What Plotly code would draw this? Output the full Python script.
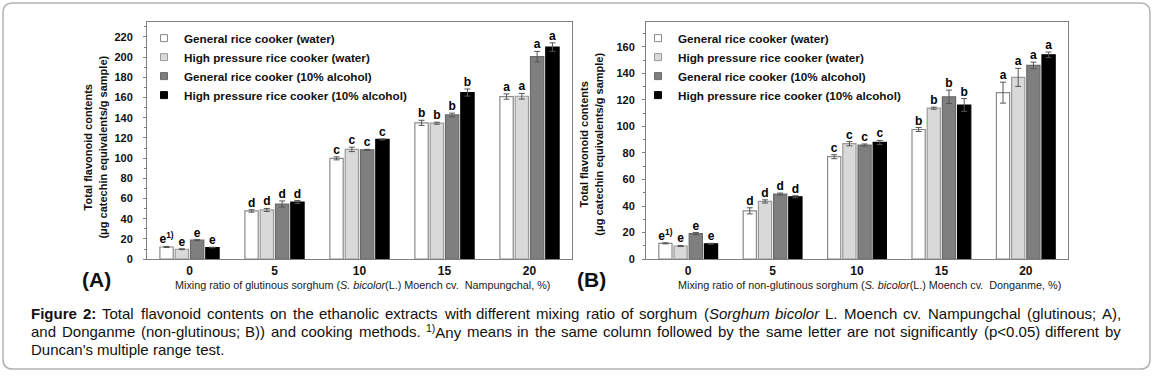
import plotly.graph_objects as go

# ---------------- data ----------------
mix_ratio = ["0", "5", "10", "15", "20"]
series_names = [
    "General rice cooker (water)",
    "High pressure rice cooker (water)",
    "General rice cooker (10% alcohol)",
    "High pressure rice cooker (10% alcohol)",
]

# (A) glutinous sorghum, Nampungchal
a_gen_water = [12.0, 47.7, 99.8, 135.0, 161.0]
a_hp_water = [9.8, 48.7, 108.7, 134.6, 161.3]
a_gen_alc = [18.8, 54.6, 108.2, 142.8, 200.5]
a_hp_alc = [11.5, 56.5, 118.5, 165.0, 210.0]
a_gen_water_err = [0.5, 1.2, 1.5, 2.5, 2.6]
a_hp_water_err = [0.4, 1.5, 2.2, 1.0, 2.8]
a_gen_alc_err = [0.5, 3.0, 0.5, 1.8, 5.2]
a_hp_alc_err = [0.3, 1.5, 0.5, 3.5, 4.2]

# (B) non-glutinous sorghum, Donganme
b_gen_water = [11.9, 36.4, 77.2, 97.7, 125.5]
b_hp_water = [9.9, 43.5, 87.0, 113.8, 137.0]
b_gen_alc = [19.2, 49.0, 86.0, 122.4, 146.0]
b_hp_alc = [11.6, 47.0, 88.0, 116.2, 154.0]
b_gen_water_err = [0.4, 2.3, 1.5, 1.5, 7.9]
b_hp_water_err = [0.4, 1.2, 1.6, 0.8, 6.8]
b_gen_alc_err = [0.8, 0.8, 0.8, 5.0, 2.5]
b_hp_alc_err = [0.3, 0.8, 1.5, 4.8, 2.1]

# Duncan letters
letters_first = ["e<sup>1)</sup>", "d", "c", "b", "a"]
letters_other = ["e", "d", "c", "b", "a"]

y_ticks_a = [0, 20, 40, 60, 80, 100, 120, 140, 160, 180, 200, 220]
y_ticks_b = [0, 20, 40, 60, 80, 100, 120, 140, 160]

caption_lines = [
    "<b>Figure 2:</b> Total flavonoid contents on the ethanolic extracts with different mixing ratio of sorghum "
    "(<i>Sorghum bicolor</i> L. Moench cv. Nampungchal (glutinous; A),",
    "and Donganme (non-glutinous; B)) and cooking methods. <sup>1)</sup>Any means in the same column followed by "
    "the same letter are not significantly (p&lt;0.05) different by",
    "Duncan's multiple range test.",
]

# ---------------- style ----------------
W, H = 1153, 378
def fx(px):
    return px / W
def fy(py):
    return 1 - py / H

fill_colors = ["#ffffff", "#d9d9d9", "#7f7f7f", "#000000"]
line_colors = ["#8a8a8a", "#9a9a9a", "#6a6a6a", "#000000"]
FONT = "Liberation Sans, Arial, sans-serif"

fig = go.Figure()

panels = [
    ("x", "y", [a_gen_water, a_hp_water, a_gen_alc, a_hp_alc],
     [a_gen_water_err, a_hp_water_err, a_gen_alc_err, a_hp_alc_err], "legend"),
    ("x2", "y2", [b_gen_water, b_hp_water, b_gen_alc, b_hp_alc],
     [b_gen_water_err, b_hp_water_err, b_gen_alc_err, b_hp_alc_err], "legend2"),
]

for xa, ya, vals, errs, leg in panels:
    for i in range(4):
        fig.add_trace(go.Bar(
            x=mix_ratio, y=vals[i], name=series_names[i],
            xaxis=xa, yaxis=ya, showlegend=False,
            marker=dict(color=fill_colors[i], line=dict(color=line_colors[i], width=1.2)),
            error_y=dict(type="data", array=errs[i], visible=True,
                         color="#555555", thickness=1, width=3),
            hoverinfo="skip",
        ))
    for i in range(4):
        lt = letters_first if i == 0 else letters_other
        fig.add_trace(go.Scatter(
            x=mix_ratio, y=[v + e for v, e in zip(vals[i], errs[i])],
            mode="text", text=lt, textposition="top center",
            textfont=dict(family=FONT, size=12, color="#000000", weight="bold"),
            xaxis=xa, yaxis=ya, showlegend=False, hoverinfo="skip",
            cliponaxis=False, offsetgroup=f"s{i}", alignmentgroup=f"al{xa}",
        ))
    # legend entries (small square swatches like the original)
    for i in range(4):
        fig.add_trace(go.Scatter(
            x=[None], y=[None], mode="markers", name=series_names[i],
            xaxis=xa, yaxis=ya, legend=leg,
            offsetgroup=f"s{i}", alignmentgroup=f"al{xa}",
            marker=dict(symbol="square", size=7, color=fill_colors[i],
                        line=dict(color=line_colors[i], width=1)),
        ))

axis_common = dict(
    showline=True, linecolor="#808080", linewidth=1, mirror=True,
    showgrid=False, zeroline=False,
)

y_top, y_bot = 22.7, 263.3
legend_font = dict(size=11.7, family=FONT, weight="bold", color="#111111")

fig.update_layout(
    width=W, height=H,
    margin=dict(l=0, r=0, t=0, b=0),
    paper_bgcolor="white", plot_bgcolor="white",
    barmode="group", bargap=0.28, bargroupgap=0.13,
    scattermode="group", scattergap=0.28,
    font=dict(family=FONT, color="#111111"),
    xaxis=dict(domain=[fx(147), fx(572)], type="category", anchor="y",
               ticks="", tickfont=dict(size=12, family=FONT, weight="bold"), **axis_common),
    yaxis=dict(domain=[fy(y_bot), fy(y_top)], range=[0, 234.5], anchor="x",
               tickvals=y_ticks_a, ticks="outside", ticklen=3, tickcolor="#808080",
               minor=dict(dtick=10, ticks="outside", ticklen=2, tickcolor="#808080"),
               ticklabelstandoff=8,
               tickfont=dict(size=11, family=FONT, weight="bold"), **axis_common),
    xaxis2=dict(domain=[fx(646), fx(1068)], type="category", anchor="y2",
                ticks="", tickfont=dict(size=12, family=FONT, weight="bold"), **axis_common),
    yaxis2=dict(domain=[fy(y_bot), fy(y_top)], range=[0, 178.5], anchor="x2",
                tickvals=y_ticks_b, ticks="outside", ticklen=3, tickcolor="#808080",
                minor=dict(dtick=10, ticks="outside", ticklen=2, tickcolor="#808080"),
                ticklabelstandoff=5,
                tickfont=dict(size=11, family=FONT, weight="bold"), **axis_common),
    legend=dict(x=fx(144), y=fy(24), xanchor="left", yanchor="top",
                bgcolor="rgba(0,0,0,0)", itemwidth=30, itemclick=False,
                font=legend_font),
    legend2=dict(x=fx(638), y=fy(24), xanchor="left", yanchor="top",
                 bgcolor="rgba(0,0,0,0)", itemwidth=30, itemclick=False,
                 font=legend_font),
)

# outer rounded frame
r = 10
x0, x1, y0, y1 = 3, 1150, 3, 375
path = (f"M {fx(x0 + r)},{fy(y0)} L {fx(x1 - r)},{fy(y0)} Q {fx(x1)},{fy(y0)} {fx(x1)},{fy(y0 + r)} "
        f"L {fx(x1)},{fy(y1 - r)} Q {fx(x1)},{fy(y1)} {fx(x1 - r)},{fy(y1)} "
        f"L {fx(x0 + r)},{fy(y1)} Q {fx(x0)},{fy(y1)} {fx(x0)},{fy(y1 - r)} "
        f"L {fx(x0)},{fy(y0 + r)} Q {fx(x0)},{fy(y0)} {fx(x0 + r)},{fy(y0)} Z")
fig.add_shape(type="path", path=path, xref="paper", yref="paper",
              line=dict(color="#b3b3b3", width=1.5), layer="below")

ytitle = "Total flavonoid contents<br>(μg catechin equivalents/g sample)"
anns = [
    dict(x=fx(95), y=fy(150), text=ytitle, textangle=-90,
         font=dict(size=11, family=FONT, weight="bold")),
    dict(x=fx(591), y=fy(147), text=ytitle, textangle=-90,
         font=dict(size=11, family=FONT, weight="bold")),
    dict(x=fx(362), y=fy(290),
         text="Mixing ratio of glutinous sorghum (<i>S. bicolor</i>(L.) Moench cv.  Nampungchal, %)",
         font=dict(size=10.8, family=FONT, color="#1a1a1a")),
    dict(x=fx(869), y=fy(290),
         text="Mixing ratio of non-glutinous sorghum (<i>S. bicolor</i>(L.) Moench cv.  Donganme, %)",
         font=dict(size=10.8, family=FONT, color="#1a1a1a")),
    dict(x=fx(96), y=fy(284), text="(A)", font=dict(size=21, family=FONT, weight="bold")),
    dict(x=fx(591), y=fy(284), text="(B)", font=dict(size=21, family=FONT, weight="bold")),
]

# ---- justified caption (Arial/Liberation Sans metrics) ----
REG = {" ": 278, "'": 191, "(": 333, ")": 333, ",": 278, "-": 333, ".": 278, ";": 278,
       ":": 278, "<": 584, "%": 889, "/": 278}
for c in "0123456789":
    REG[c] = 556
REG.update(dict(zip("ABCDEFGHIJKLMNOPQRSTUVWXYZ",
                    [667, 667, 722, 722, 667, 611, 778, 722, 278, 500, 667, 556, 833,
                     722, 778, 667, 778, 722, 667, 611, 722, 667, 944, 667, 667, 611])))
REG.update(dict(zip("abcdefghijklmnopqrstuvwxyz",
                    [556, 556, 500, 556, 556, 278, 556, 556, 222, 222, 500, 222, 833,
                     556, 556, 556, 556, 333, 500, 278, 556, 500, 722, 500, 500, 500])))
BOLD = {"F": 611, "i": 278, "g": 611, "u": 611, "r": 389, "e": 556, "2": 556, ":": 333}

CAP_FS = 15
CAP_X0, CAP_X1 = 31, 1121

def words_of(line):
    state = {"b": False, "i": False, "sup": False}
    out = []
    for w in line.split(" "):
        start = dict(state)
        width = 0.0
        k = 0
        while k < len(w):
            if w[k] == "<":
                j = w.index(">", k)
                tag = w[k + 1:j]
                state[tag.strip("/")] = not tag.startswith("/")
                k = j + 1
                continue
            if w.startswith("&lt;", k):
                ch = "<"
                k += 4
            else:
                ch = w[k]
                k += 1
            size = CAP_FS * (0.7 if state["sup"] else 1.0)
            table_w = BOLD.get(ch, REG.get(ch, 556)) if state["b"] else REG.get(ch, 556)
            width += table_w * size / 1000
        pre = "".join(f"<{t}>" for t in ("b", "i", "sup") if start[t])
        post = "".join(f"</{t}>" for t in ("sup", "i", "b") if state[t])
        out.append((pre + w + post, width))
    return out

for li, line in enumerate(caption_lines):
    ws = words_of(line)
    space = REG[" "] * CAP_FS / 1000
    total = sum(w for _, w in ws)
    if li < len(caption_lines) - 1 and len(ws) > 1:
        gap = (CAP_X1 - CAP_X0 - total) / (len(ws) - 1)
    else:
        gap = space
    xpos = CAP_X0
    for txt, wid in ws:
        anns.append(dict(x=fx(xpos - 2), y=fy(319 + 18 * li), xanchor="left", text=txt,
                         font=dict(size=CAP_FS, family=FONT, color="#111111")))
        xpos += wid + gap

for a in anns:
    a.setdefault("xanchor", "center")
    a.update(xref="paper", yref="paper", yanchor="middle", showarrow=False)
    fig.add_annotation(**a)

fig.write_html("out.html", config={"displayModeBar": False},
               post_script="document.body.style.margin='0';")
